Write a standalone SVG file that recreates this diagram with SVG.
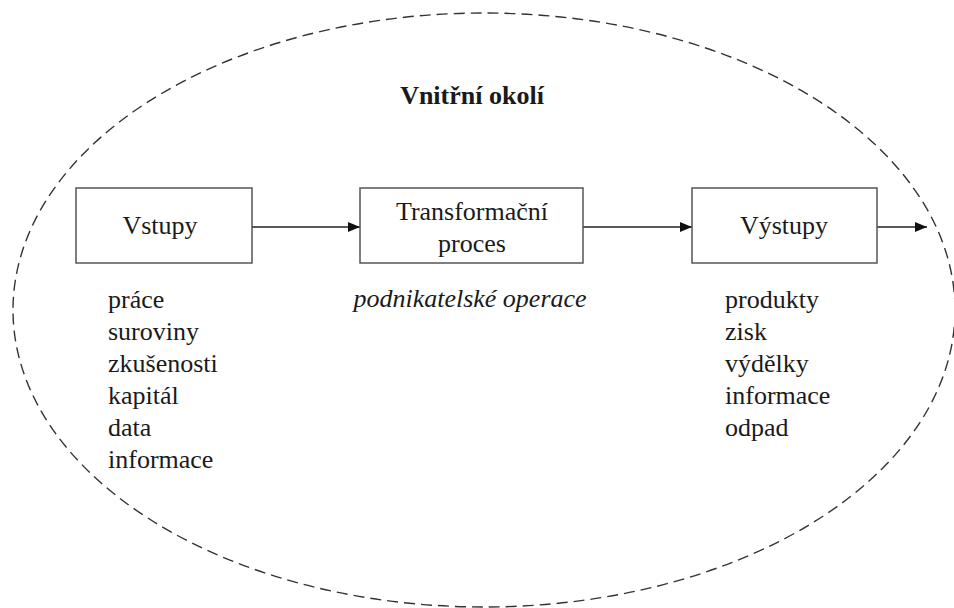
<svg xmlns="http://www.w3.org/2000/svg" width="954" height="608" viewBox="0 0 954 608">
<style>
.box{fill:#fff;stroke:#555;stroke-width:1.5}
.t{font-family:"Liberation Serif","Times New Roman",serif;font-size:26px;fill:#1a1a1a}
.c{text-anchor:middle}
.edge{stroke:#222;stroke-width:1.5;fill:none}
</style>
<defs>
<marker id="ah" markerWidth="12" markerHeight="10" refX="12" refY="5" orient="auto" markerUnits="userSpaceOnUse">
<path d="M0,0 L12,5 L0,10 Z" fill="#111"/>
</marker>
</defs>
<rect width="954" height="608" fill="#fff"/>
<g id="okoli">
<ellipse cx="484" cy="310" rx="471" ry="297" fill="none" stroke="#333" stroke-width="1.4" stroke-dasharray="11 6"/>
<text class="t c" x="472" y="104" font-weight="bold" font-size="26.5">Vnitřní okolí</text>
</g>
<g id="connectors">
<line class="edge" x1="252" y1="227" x2="360" y2="227" marker-end="url(#ah)"/>
<line class="edge" x1="583" y1="227" x2="692" y2="227" marker-end="url(#ah)"/>
<line class="edge" x1="877" y1="227" x2="927" y2="227" marker-end="url(#ah)"/>
</g>
<g id="vstupy">
<rect class="box" x="76" y="188" width="176" height="75"/>
<text class="t c" x="160" y="234">Vstupy</text>
<text class="t" x="108"><tspan x="108" y="308">práce</tspan><tspan x="108" y="340">suroviny</tspan><tspan x="108" y="372">zkušenosti</tspan><tspan x="108" y="404">kapitál</tspan><tspan x="108" y="436">data</tspan><tspan x="108" y="468">informace</tspan></text>
</g>
<g id="transformace">
<rect class="box" x="360" y="188" width="223" height="75"/>
<text class="t c" x="472" y="220">Transformační</text>
<text class="t c" x="472" y="252">proces</text>
<text class="t c" x="470" y="307" font-style="italic">podnikatelské operace</text>
</g>
<g id="vystupy">
<rect class="box" x="692" y="188" width="185" height="75"/>
<text class="t c" x="784" y="234">Výstupy</text>
<text class="t" x="725"><tspan x="725" y="308">produkty</tspan><tspan x="725" y="340">zisk</tspan><tspan x="725" y="372">výdělky</tspan><tspan x="725" y="404">informace</tspan><tspan x="725" y="436">odpad</tspan></text>
</g>
</svg>
